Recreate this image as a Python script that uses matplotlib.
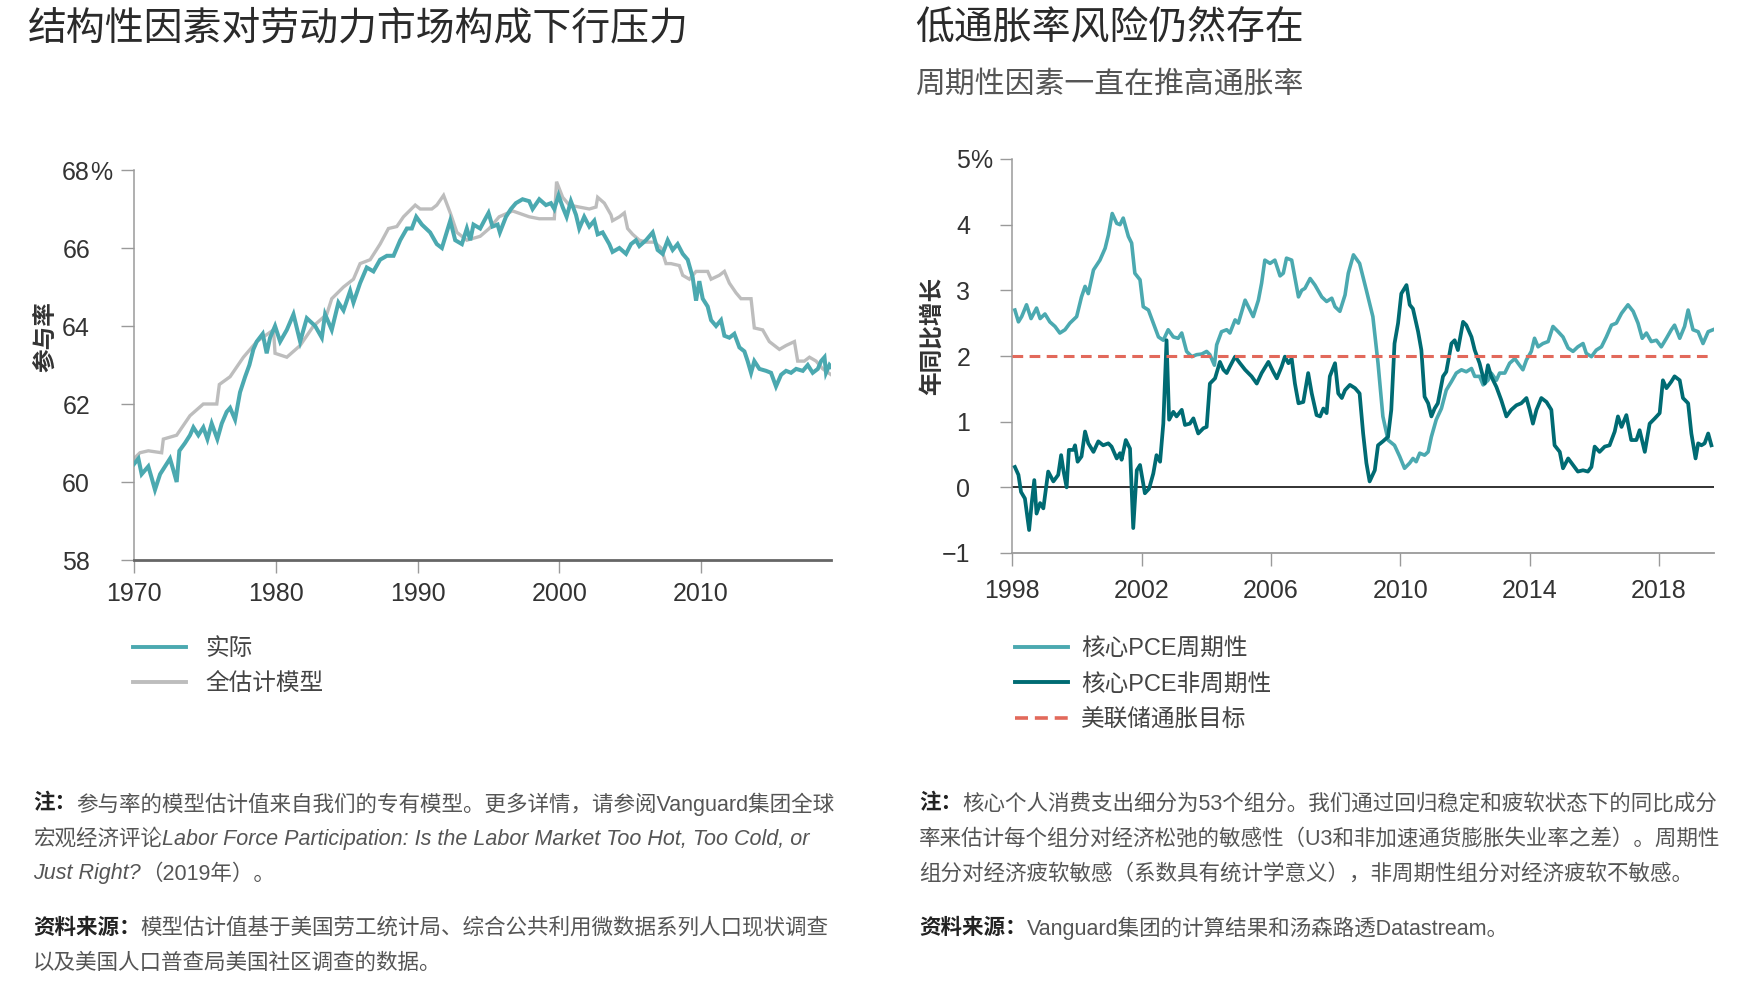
import matplotlib
matplotlib.use('Agg')
import matplotlib.pyplot as plt
from matplotlib.lines import Line2D

CJK = 'Noto Sans CJK SC'
LAT = 'Liberation Sans'
MIX = [LAT, CJK]
plt.rcParams['font.family'] = MIX
plt.rcParams['axes.unicode_minus'] = True

# ---------------- data: left chart (participation rate, %) ----------------
actual_year = [1970.00, 1970.31, 1970.54, 1971.01, 1971.25, 1971.48, 1971.84, 1972.19, 1972.54, 1972.78,
               1973.01, 1973.20, 1973.60, 1973.95, 1974.19, 1974.54, 1974.89, 1975.18, 1975.48, 1975.88,
               1976.19, 1976.54, 1976.78, 1977.13, 1977.48, 1977.84, 1978.14, 1978.42, 1978.66, 1979.08,
               1979.36, 1979.60, 1979.95, 1980.31, 1980.78, 1981.25, 1981.72, 1982.19, 1982.78, 1983.25,
               1983.48, 1983.95, 1984.42, 1984.78, 1985.25, 1985.48, 1985.95, 1986.42, 1986.89, 1987.36,
               1987.84, 1988.31, 1988.78, 1989.25, 1989.60, 1989.91, 1990.31, 1990.89, 1991.36, 1991.72,
               1992.31, 1992.66, 1993.13, 1993.48, 1993.72, 1993.95, 1994.42, 1994.71, 1995.01, 1995.29,
               1995.65, 1995.81, 1996.24, 1996.59, 1996.94, 1997.41, 1997.88, 1998.12, 1998.59, 1999.06,
               1999.41, 1999.65, 1999.95, 2000.24, 2000.52, 2000.82, 2001.18, 2001.41, 2001.76, 2002.12,
               2002.47, 2002.71, 2003.06, 2003.53, 2003.76, 2004.24, 2004.71, 2005.06, 2005.41, 2005.65,
               2006.12, 2006.59, 2006.94, 2007.29, 2007.65, 2008.00, 2008.35, 2008.71, 2009.06, 2009.41,
               2009.65, 2009.88, 2010.12, 2010.47, 2010.71, 2011.06, 2011.41, 2011.65, 2012.00, 2012.35,
               2012.71, 2013.06, 2013.29, 2013.53, 2013.76, 2014.12, 2014.59, 2014.94, 2015.29, 2015.65,
               2016.00, 2016.35, 2016.71, 2017.18, 2017.53, 2017.88, 2018.24, 2018.47, 2018.71, 2018.82,
               2019.06, 2019.18]
actual_val = [60.46, 60.6, 60.2, 60.4, 60.1, 59.8, 60.2, 60.4, 60.6, 60.3,
              60.0, 60.8, 61.0, 61.2, 61.4, 61.2, 61.4, 61.1, 61.5, 61.1,
              61.5, 61.8, 61.9, 61.6, 62.3, 62.7, 63.0, 63.4, 63.6, 63.8,
              63.3, 63.7, 64.0, 63.6, 63.9, 64.3, 63.6, 64.2, 64.0, 63.7,
              64.3, 63.9, 64.6, 64.4, 64.9, 64.6, 65.1, 65.5, 65.4, 65.7,
              65.8, 65.8, 66.2, 66.5, 66.5, 66.8, 66.6, 66.4, 66.1, 66.0,
              66.7, 66.2, 66.1, 66.5, 66.2, 66.6, 66.5, 66.7, 66.9, 66.55,
              66.6, 66.4, 66.8, 67.0, 67.15, 67.25, 67.2, 67.0, 67.25, 67.1,
              67.15, 67.0, 67.35, 67.05, 66.8, 67.2, 66.85, 66.5, 66.8, 66.55,
              66.7, 66.35, 66.4, 66.1, 65.9, 66.0, 65.85, 66.1, 66.2, 66.05,
              66.2, 66.4, 65.95, 65.85, 66.2, 65.95, 66.1, 65.85, 65.7, 65.25,
              64.65, 65.15, 64.7, 64.5, 64.15, 64.0, 64.15, 63.75, 63.7, 63.8,
              63.45, 63.35, 63.1, 62.8, 63.1, 62.9, 62.85, 62.8, 62.45, 62.75,
              62.85, 62.8, 62.9, 62.85, 63.0, 62.8, 62.9, 63.1, 63.2, 62.8,
              63.0, 62.95]

model_year = [1970.00, 1970.42, 1971.01, 1971.95, 1972.07, 1973.01, 1973.95, 1974.89, 1975.84, 1976.02,
              1976.78, 1977.72, 1978.66, 1979.84, 1979.95, 1980.78, 1981.72, 1982.66, 1983.60, 1983.95,
              1984.78, 1985.48, 1985.95, 1986.66, 1987.36, 1987.95, 1988.54, 1989.01, 1989.84, 1990.19,
              1991.01, 1991.36, 1991.84, 1992.31, 1992.78, 1993.48, 1994.42, 1995.06, 1995.76, 1996.71,
              1997.88, 1998.59, 1999.65, 1999.81, 2000.24, 2000.71, 2001.41, 2002.12, 2002.59, 2002.71,
              2003.18, 2003.65, 2003.76, 2004.24, 2004.59, 2004.82, 2005.18, 2005.65, 2006.12, 2006.71,
              2007.18, 2007.53, 2007.88, 2008.47, 2008.71, 2009.18, 2009.65, 2010.47, 2010.71, 2011.29,
              2011.65, 2012.00, 2012.47, 2012.82, 2013.53, 2013.76, 2014.35, 2014.82, 2015.53, 2016.00,
              2016.59, 2016.82, 2017.29, 2017.65, 2018.12, 2018.59, 2019.18]
model_val = [60.6, 60.75, 60.8, 60.75, 61.1, 61.2, 61.7, 62.0, 62.0, 62.5,
             62.7, 63.2, 63.6, 63.9, 63.3, 63.2, 63.5, 64.0, 64.3, 64.7,
             65.0, 65.2, 65.6, 65.7, 66.1, 66.5, 66.55, 66.8, 67.1, 67.0,
             67.0, 67.1, 67.35, 66.9, 66.4, 66.2, 66.3, 66.5, 66.8, 66.95,
             66.8, 66.75, 66.75, 67.7, 67.3, 67.1, 67.05, 67.0, 67.05, 67.3,
             67.15, 66.85, 66.7, 66.8, 66.9, 66.5, 66.35, 66.2, 66.15, 66.15,
             66.0, 65.6, 65.6, 65.55, 65.3, 65.2, 65.4, 65.4, 65.2, 65.3,
             65.4, 65.1, 64.85, 64.7, 64.7, 63.95, 63.9, 63.6, 63.4, 63.5,
             63.6, 63.1, 63.1, 63.2, 63.1, 62.9, 62.75]

left_xticks = [1970, 1980, 1990, 2000, 2010]
left_yticks = [58, 60, 62, 64, 66, 68]

# ---------------- data: right chart (core PCE, % y/y) ----------------
cyc_year = [1998.08, 1998.19, 1998.29, 1998.44, 1998.58, 1998.75, 1998.86, 1999.01, 1999.16, 1999.32,
            1999.47, 1999.63, 1999.78, 1999.99, 2000.14, 2000.25, 2000.35, 2000.51, 2000.71, 2000.87,
            2000.97, 2001.09, 2001.23, 2001.33, 2001.43, 2001.59, 2001.69, 2001.79, 2001.95, 2002.05,
            2002.21, 2002.36, 2002.52, 2002.67, 2002.82, 2002.98, 2003.13, 2003.24, 2003.39, 2003.55,
            2003.70, 2003.86, 2004.01, 2004.11, 2004.25, 2004.32, 2004.47, 2004.63, 2004.73, 2004.89,
            2004.99, 2005.20, 2005.35, 2005.45, 2005.61, 2005.71, 2005.81, 2005.97, 2006.12, 2006.28,
            2006.38, 2006.48, 2006.64, 2006.85, 2006.95, 2007.05, 2007.21, 2007.36, 2007.57, 2007.72,
            2007.88, 2007.98, 2008.13, 2008.29, 2008.39, 2008.55, 2008.74, 2008.95, 2009.15, 2009.31,
            2009.46, 2009.62, 2009.82, 2009.98, 2010.13, 2010.29, 2010.39, 2010.49, 2010.60, 2010.75,
            2010.86, 2010.96, 2011.11, 2011.27, 2011.42, 2011.58, 2011.73, 2011.89, 2012.04, 2012.20,
            2012.30, 2012.45, 2012.56, 2012.71, 2012.81, 2012.97, 2013.07, 2013.23, 2013.38, 2013.54,
            2013.64, 2013.79, 2013.90, 2014.05, 2014.15, 2014.26, 2014.41, 2014.57, 2014.72, 2014.88,
            2015.03, 2015.19, 2015.34, 2015.49, 2015.65, 2015.75, 2015.91, 2016.06, 2016.22, 2016.37,
            2016.53, 2016.68, 2016.84, 2017.04, 2017.20, 2017.35, 2017.48, 2017.61, 2017.76, 2017.92,
            2018.07, 2018.23, 2018.38, 2018.48, 2018.64, 2018.79, 2018.90, 2019.05, 2019.21, 2019.36,
            2019.52, 2019.67]
cyc_val = [2.70, 2.52, 2.6, 2.78, 2.57, 2.73, 2.57, 2.64, 2.52, 2.45,
           2.35, 2.4, 2.5, 2.6, 2.9, 3.06, 2.95, 3.31, 3.46, 3.64,
           3.84, 4.17, 4.02, 4.0, 4.1, 3.82, 3.72, 3.26, 3.16, 2.75,
           2.7, 2.5, 2.29, 2.24, 2.4, 2.29, 2.27, 2.35, 2.07, 1.99,
           2.02, 2.03, 2.07, 2.02, 1.86, 2.17, 2.37, 2.4, 2.35, 2.55,
           2.5, 2.85, 2.7, 2.6, 2.85, 3.11, 3.46, 3.41, 3.46, 3.22,
           3.26, 3.49, 3.46, 2.9, 3.0, 3.03, 3.18, 3.08, 2.9, 2.83,
           2.88, 2.75, 2.68, 2.93, 3.26, 3.54, 3.41, 3.0, 2.6, 1.89,
           1.08, 0.72, 0.64, 0.47, 0.29, 0.37, 0.44, 0.39, 0.52, 0.49,
           0.54, 0.77, 1.03, 1.2, 1.48, 1.61, 1.74, 1.79, 1.76, 1.81,
           1.69, 1.69, 1.56, 1.63, 1.74, 1.63, 1.74, 1.74, 1.89, 1.96,
           1.89, 1.79, 1.94, 2.07, 2.27, 2.14, 2.19, 2.22, 2.45, 2.37,
           2.29, 2.12, 2.07, 2.14, 2.19, 2.04, 1.99, 2.09, 2.14, 2.29,
           2.47, 2.5, 2.65, 2.78, 2.68, 2.5, 2.27, 2.35, 2.22, 2.24,
           2.14, 2.27, 2.4, 2.47, 2.27, 2.45, 2.7, 2.4, 2.37, 2.19,
           2.37, 2.4]

acyc_year = [1998.08, 1998.19, 1998.27, 1998.39, 1998.52, 1998.60, 1998.68, 1998.75, 1998.86, 1998.96,
             1999.11, 1999.27, 1999.42, 1999.51, 1999.58, 1999.68, 1999.75, 1999.89, 1999.94, 2000.02,
             2000.14, 2000.25, 2000.35, 2000.51, 2000.66, 2000.81, 2000.97, 2001.07, 2001.23, 2001.33,
             2001.38, 2001.51, 2001.64, 2001.74, 2001.85, 2001.95, 2002.10, 2002.23, 2002.36, 2002.46,
             2002.57, 2002.67, 2002.77, 2002.85, 2002.98, 2003.08, 2003.24, 2003.34, 2003.49, 2003.60,
             2003.75, 2003.91, 2004.01, 2004.11, 2004.27, 2004.42, 2004.53, 2004.63, 2004.73, 2004.89,
             2005.04, 2005.20, 2005.40, 2005.56, 2005.71, 2005.92, 2006.07, 2006.18, 2006.33, 2006.43,
             2006.54, 2006.64, 2006.74, 2006.85, 2007.00, 2007.15, 2007.26, 2007.41, 2007.52, 2007.62,
             2007.72, 2007.82, 2007.98, 2008.08, 2008.19, 2008.29, 2008.44, 2008.60, 2008.74, 2008.85,
             2008.95, 2009.05, 2009.21, 2009.31, 2009.46, 2009.62, 2009.72, 2009.82, 2009.93, 2010.03,
             2010.19, 2010.29, 2010.39, 2010.55, 2010.65, 2010.75, 2010.86, 2010.96, 2011.06, 2011.16,
             2011.32, 2011.42, 2011.58, 2011.68, 2011.78, 2011.94, 2012.04, 2012.20, 2012.30, 2012.45,
             2012.61, 2012.71, 2012.81, 2012.97, 2013.12, 2013.28, 2013.43, 2013.59, 2013.74, 2013.90,
             2014.00, 2014.10, 2014.21, 2014.36, 2014.52, 2014.67, 2014.77, 2014.93, 2015.03, 2015.19,
             2015.34, 2015.49, 2015.65, 2015.80, 2015.91, 2016.01, 2016.16, 2016.32, 2016.47, 2016.63,
             2016.73, 2016.84, 2016.99, 2017.14, 2017.30, 2017.40, 2017.56, 2017.71, 2017.87, 2018.02,
             2018.12, 2018.23, 2018.38, 2018.48, 2018.64, 2018.74, 2018.90, 2019.00, 2019.13, 2019.21,
             2019.31, 2019.41, 2019.52, 2019.62]
acyc_val = [0.31, 0.19, -0.07, -0.17, -0.65, -0.24, 0.11, -0.4, -0.24, -0.32,
            0.24, 0.09, 0.19, 0.49, 0.26, 0.0, 0.57, 0.57, 0.64, 0.39,
            0.47, 0.85, 0.67, 0.54, 0.7, 0.64, 0.67, 0.62, 0.44, 0.52,
            0.42, 0.72, 0.59, -0.62, 0.26, 0.34, -0.09, -0.02, 0.21, 0.49,
            0.39, 0.97, 2.24, 1.03, 1.15, 1.08, 1.18, 0.95, 0.97, 1.05,
            0.82, 0.9, 0.92, 1.58, 1.66, 1.91, 1.79, 1.74, 1.84, 1.99,
            1.89, 1.79, 1.69, 1.58, 1.74, 1.91, 1.76, 1.66, 1.84, 1.99,
            1.89, 1.96, 1.58, 1.28, 1.3, 1.74, 1.43, 1.1, 1.08, 1.2,
            1.13, 1.69, 1.89, 1.43, 1.36, 1.48, 1.56, 1.51, 1.43, 0.82,
            0.37, 0.09, 0.26, 0.64, 0.7, 0.77, 1.18, 2.19, 2.5, 2.95,
            3.08, 2.78, 2.72, 2.37, 2.09, 1.38, 1.28, 1.08, 1.2, 1.28,
            1.69, 1.76, 2.19, 2.24, 2.09, 2.52, 2.47, 2.29, 2.09, 1.89,
            1.58, 1.86, 1.69, 1.53, 1.33, 1.08, 1.18, 1.25, 1.28, 1.36,
            1.18, 0.97, 1.18, 1.36, 1.3, 1.18, 0.64, 0.54, 0.29, 0.44,
            0.34, 0.24, 0.26, 0.24, 0.31, 0.62, 0.54, 0.62, 0.64, 0.85,
            1.08, 0.92, 1.1, 0.72, 0.72, 0.87, 0.54, 0.97, 1.05, 1.13,
            1.63, 1.51, 1.61, 1.69, 1.63, 1.36, 1.28, 0.82, 0.44, 0.67,
            0.64, 0.67, 0.82, 0.64]

fed_target = 2.0
right_xticks = [1998, 2002, 2006, 2010, 2014, 2018]
right_yticks = [-1, 0, 1, 2, 3, 4, 5]
right_yticklabels = ['\u22121', '0', '1', '2', '3', '4', '5']

# ---------------- text ----------------
title_left = '结构性因素对劳动力市场构成下行压力'
title_right = '低通胀率风险仍然存在'
subtitle_right = '周期性因素一直在推高通胀率'
ylabel_left = '参与率'
ylabel_right = '年同比增长'
legend_left = ['实际', '全估计模型']
legend_right = ['核心PCE周期性', '核心PCE非周期性', '美联储通胀目标']

# ---------------- styling ----------------
TEAL = '#4BA9B0'
DARK = '#006B73'
GRAY = '#BDBDBD'
RED = '#E2695B'
SPINE = '#9A9A9A'
TICKC = '#333333'

W, H = 1754, 990
fig = plt.figure(figsize=(W / 100, H / 100), dpi=100)
fig.patch.set_facecolor('white')

def px2pt(p):
    return p * 0.72

ax1 = fig.add_axes([134 / W, 1 - 560 / H, 697 / W, 390 / H])
ax2 = fig.add_axes([1012.3 / W, 1 - 553 / H, 701.7 / W, 394 / H])

# left chart
l_model, = ax1.plot(model_year, model_val, color=GRAY, lw=2.4, solid_joinstyle='miter', zorder=2)
l_actual, = ax1.plot(actual_year, actual_val, color=TEAL, lw=2.9, solid_joinstyle='miter', zorder=3)
ax1.set_xlim(1970, 2019.17)
ax1.set_ylim(58, 68)
ax1.set_xticks(left_xticks)
ax1.set_xticklabels([str(v) for v in left_xticks])
ax1.set_yticks(left_yticks)
ax1.set_yticklabels([str(v) for v in left_yticks])

# right chart
ax2.axhline(0, color='#222222', lw=1.3, zorder=1.5)
l_cyc, = ax2.plot(cyc_year, cyc_val, color=TEAL, lw=2.6, zorder=3)
l_acyc, = ax2.plot(acyc_year, acyc_val, color=DARK, lw=2.7, zorder=3.5)
l_fed = ax2.axhline(fed_target, color=RED, lw=2.2, ls=(0, (3.5, 2.1)), zorder=4)
ax2.set_xlim(1998, 2019.70)
ax2.set_ylim(-1, 5)
ax2.set_xticks(right_xticks)
ax2.set_xticklabels([str(v) for v in right_xticks])
ax2.set_yticks(right_yticks)
ax2.set_yticklabels(right_yticklabels)

for ax, ylen, ypad, xpad in [(ax1, 13, 31, 6.6), (ax2, 12, 30, 9.0)]:
    for s in ['top', 'right']:
        ax.spines[s].set_visible(False)
    ax.spines['left'].set_color(SPINE)
    ax.spines['left'].set_linewidth(1.1)
    ax.tick_params(axis='y', length=px2pt(ylen), width=1.0, color=SPINE, pad=px2pt(ypad),
                   labelsize=18, labelcolor=TICKC)
    ax.tick_params(axis='x', length=px2pt(13), width=1.0, color=SPINE, pad=xpad,
                   labelsize=18, labelcolor=TICKC)
    for lab in ax.get_xticklabels() + ax.get_yticklabels():
        lab.set_fontfamily(LAT)

ax1.spines['bottom'].set_color('#666666')
ax1.spines['bottom'].set_linewidth(2.0)
ax2.spines['bottom'].set_color(SPINE)
ax2.spines['bottom'].set_linewidth(1.3)

# percent signs after the top tick labels
ax1.annotate('%', xy=(0, 68), xycoords=ax1.get_yaxis_transform(), xytext=(px2pt(-44), 0),
             textcoords='offset points', ha='left', va='center_baseline', fontsize=18,
             color=TICKC, family=LAT)
ax2.annotate('%', xy=(0, 5), xycoords=ax2.get_yaxis_transform(), xytext=(px2pt(-42.3), 0),
             textcoords='offset points', ha='left', va='center_baseline', fontsize=18,
             color=TICKC, family=LAT)

# titles
fig.text(28 / W, 1 - 28 / H, title_left, fontsize=28, family=CJK, color='#2A2A2A', va='center', ha='left')
fig.text(915 / W, 1 - 28 / H, title_right, fontsize=28, family=CJK, color='#2A2A2A', va='center', ha='left')
fig.text(915 / W, 1 - 84 / H, subtitle_right, fontsize=21.5, family=CJK, color='#555555', va='center', ha='left')

# y labels
fig.text(45 / W, 1 - 337 / H, ylabel_left, rotation=90, fontsize=17, family=CJK, weight='bold',
         color='#333333', ha='center', va='center')
fig.text(932 / W, 1 - 336 / H, ylabel_right, rotation=90, fontsize=17, family=CJK, weight='bold',
         color='#333333', ha='center', va='center')

# legends
leg_kw = dict(frameon=False, borderpad=0, borderaxespad=0, handlelength=2.25,
              labelspacing=0.58, prop={'family': MIX, 'size': 17}, labelcolor='#444444')
h1 = [Line2D([], [], color=TEAL, lw=2.8), Line2D([], [], color=GRAY, lw=2.8)]
ax1.legend(h1, legend_left, loc='upper left', bbox_to_anchor=(133 / W, 1 - 638 / H),
           bbox_transform=fig.transFigure, handletextpad=0.8, **leg_kw)
h2 = [Line2D([], [], color=TEAL, lw=2.8), Line2D([], [], color=DARK, lw=2.8),
      Line2D([], [], color=RED, lw=2.6, ls=(0, (3.6, 1.9)))]
ax2.legend(h2, legend_right, loc='upper left', bbox_to_anchor=(1015 / W, 1 - 638 / H),
           bbox_transform=fig.transFigure, handletextpad=0.55, **leg_kw)

# notes
renderer = fig.canvas.get_renderer()
NOTE_SIZE = 15.5
BOLD = dict(family=MIX, weight='bold', color='#222222')
REG = dict(family=MIX, color='#555555')
ITAL = dict(family=[LAT], style='italic', color='#555555')

def seg_line(x_px, y_px, segs):
    x = x_px
    for txt, kw in segs:
        t = fig.text(x / W, 1 - y_px / H, txt, fontsize=NOTE_SIZE, va='center', ha='left', **kw)
        bb = t.get_window_extent(renderer)
        x += bb.width

seg_line(33, 804, [('注：', BOLD), ('参与率的模型估计值来自我们的专有模型。更多详情，请参阅Vanguard集团全球', REG)])
seg_line(33, 839, [('宏观经济评论', REG), ('Labor Force Participation: Is the Labor Market Too Hot, Too Cold, or', ITAL)])
seg_line(33, 874, [('Just Right?', ITAL), ('（2019年）。', REG)])
seg_line(33, 928, [('资料来源：', BOLD), ('模型估计值基于美国劳工统计局、综合公共利用微数据系列人口现状调查', REG)])
seg_line(33, 963, [('以及美国人口普查局美国社区调查的数据。', REG)])

seg_line(919, 804, [('注：', BOLD), ('核心个人消费支出细分为53个组分。我们通过回归稳定和疲软状态下的同比成分', REG)])
seg_line(919, 839, [('率来估计每个组分对经济松弛的敏感性（U3和非加速通货膨胀失业率之差）。周期性', REG)])
seg_line(919, 874, [('组分对经济疲软敏感（系数具有统计学意义），非周期性组分对经济疲软不敏感。', REG)])
seg_line(919, 928, [('资料来源：', BOLD), ('Vanguard集团的计算结果和汤森路透Datastream。', REG)])

fig.savefig('out.png', dpi=100, facecolor='white')
